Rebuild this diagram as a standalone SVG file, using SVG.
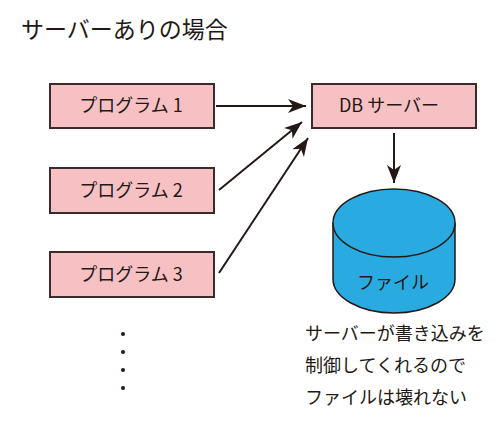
<svg xmlns="http://www.w3.org/2000/svg" width="500" height="430" viewBox="0 0 500 430">
<defs>
<style>
.box{fill:#f7c1c4;stroke:#3a2c2c;stroke-width:2}
.t{font-family:"Noto Sans CJK JP","Noto Sans",sans-serif;fill:#231815}
.lbl{font-size:18px;text-anchor:middle}
.note{font-size:18px}
.conn{stroke:#231815;stroke-width:2;fill:none}
.cyl{fill:#29abe2;stroke:#231815;stroke-width:1.5}
</style>
<marker id="ah" markerUnits="userSpaceOnUse" markerWidth="20" markerHeight="16" refX="18" refY="7" orient="auto">
<path d="M0,0 L18,7 L0,14 L5,7 z" fill="#231815"/>
</marker>
</defs>
<rect width="500" height="430" fill="#ffffff"/>
<text class="t" x="21" y="38" font-size="23">サーバーありの場合</text>
<g id="prog1"><rect class="box" x="50" y="84" width="164" height="44"/><text class="t lbl" x="131" y="112">プログラム 1</text></g>
<g id="prog2"><rect class="box" x="50" y="168" width="164" height="45"/><text class="t lbl" x="131" y="197">プログラム 2</text></g>
<g id="prog3"><rect class="box" x="50" y="252" width="164" height="45"/><text class="t lbl" x="131" y="281">プログラム 3</text></g>
<g id="dbserver"><rect class="box" x="312" y="84" width="164" height="44"/><text class="t lbl" x="389" y="112">DB サーバー</text></g>
<g id="file">
<path class="cyl" d="M333,223 L333,279 A61,34 0 0 0 455,279 L455,223"/>
<ellipse class="cyl" cx="394" cy="223" rx="61" ry="34"/>
<text class="t lbl" x="393" y="289">ファイル</text>
</g>
<g id="connectors">
<line class="conn" x1="216" y1="106" x2="306" y2="106" marker-end="url(#ah)"/>
<line class="conn" x1="219" y1="190" x2="302" y2="122" marker-end="url(#ah)"/>
<line class="conn" x1="219" y1="273" x2="308" y2="138" marker-end="url(#ah)"/>
<line class="conn" x1="394" y1="133" x2="394" y2="183" marker-end="url(#ah)"/>
</g>
<g id="dots" fill="#231815">
<circle cx="123" cy="334" r="2"/><circle cx="123" cy="352" r="2"/><circle cx="123" cy="370" r="2"/><circle cx="123" cy="388" r="2"/>
</g>
<g id="note">
<text class="t note" x="305" y="340">サーバーが書き込みを</text>
<text class="t note" x="305" y="372">制御してくれるので</text>
<text class="t note" x="305" y="404">ファイルは壊れない</text>
</g>
</svg>
